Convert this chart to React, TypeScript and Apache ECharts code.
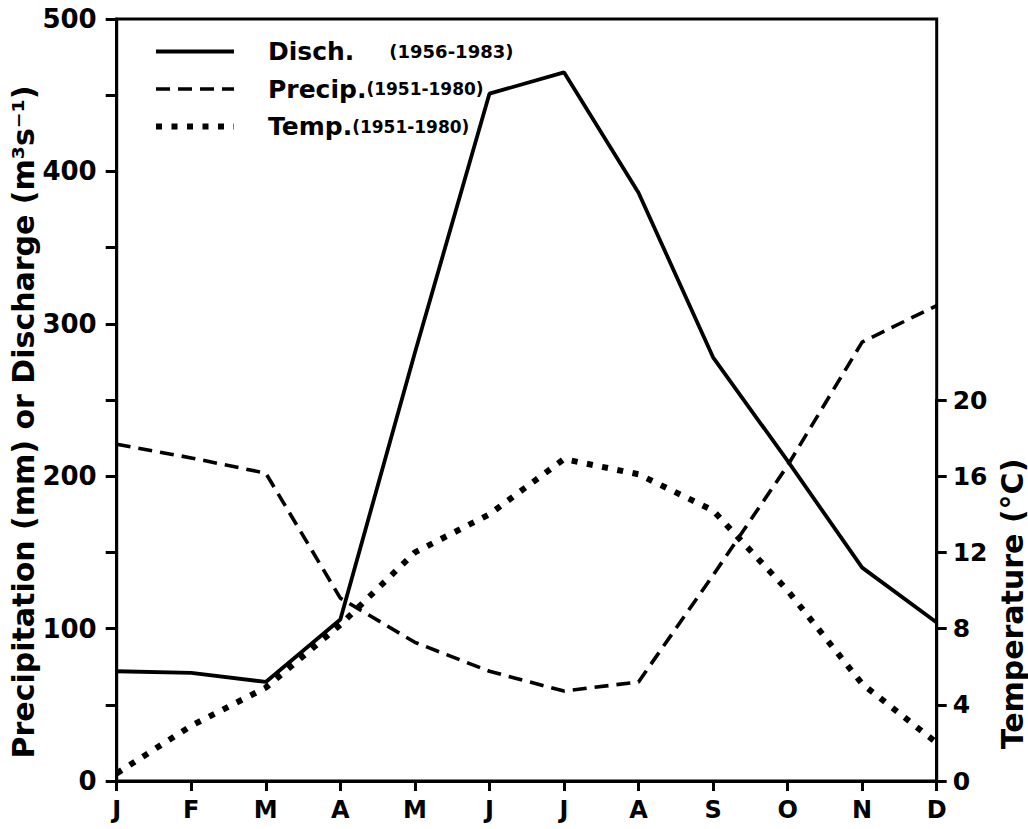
import React, { useEffect, useRef } from "react";
import * as echarts from "echarts";

const months = ["J", "F", "M", "A", "M", "J", "J", "A", "S", "O", "N", "D"];
const discharge = [72, 71, 65, 106, 281, 451, 465, 386, 278, 210, 140, 104];
const precipitation = [221, 212, 202, 120, 91, 72, 59, 65, 135, 207, 288, 312];
const temperature = [0.4, 2.9, 4.9, 8.2, 12.0, 14.0, 16.9, 16.1, 14.2, 10.0, 5.1, 2.0];

const leftTicks = { min: 0, max: 500, interval: 100 };
const rightTicks = { min: 0, max: 20, interval: 4 };

const legendPeriods: Record<string, string> = {
  "Disch.": "(1956-1983)",
  "Precip.": "(1951-1980)",
  "Temp.": "(1951-1980)",
};

const FONT = "DejaVu Sans";

const dischStyle = { color: "#000", width: 3.8, type: "solid" as const };
const precipStyle = { color: "#000", width: 3.6, type: [14, 8], cap: "butt" as const };
const tempStyle = { color: "#000", width: 6, type: [6, 9.5], cap: "butt" as const };

export default function App() {
  const ref = useRef<HTMLDivElement>(null);
  useEffect(() => {
    if (!ref.current) return;
    const chart = echarts.init(ref.current, null, { renderer: "svg" });
    const black = "#000";
    const labelStyle = (size: number, margin: number) => ({
      color: black,
      fontSize: size,
      fontWeight: "bold",
      fontFamily: FONT,
      margin,
    });
    const hiddenSymbol = { opacity: 0, borderWidth: 0 };
    chart.setOption({
      animation: false,
      backgroundColor: "#fff",
      textStyle: { fontFamily: FONT, fontWeight: "bold", color: black },
      grid: [
        { left: 116.7, right: 91.3, top: 19, bottom: 48, show: true, borderColor: black, borderWidth: 3 },
        { left: 116.7, right: 91.3, top: 400, bottom: 48, show: false },
      ],
      xAxis: [
        {
          type: "category",
          gridIndex: 0,
          data: months,
          boundaryGap: false,
          axisLine: { lineStyle: { color: black, width: 3 } },
          axisTick: { length: 10, lineStyle: { width: 3, color: black } },
          axisLabel: labelStyle(24, 17),
          splitLine: { show: false },
        },
        { type: "category", gridIndex: 1, data: months, boundaryGap: false, show: false },
      ],
      yAxis: [
        {
          type: "value",
          gridIndex: 0,
          ...leftTicks,
          axisLine: { show: true, lineStyle: { color: black, width: 3 } },
          axisTick: { show: true, length: 11, lineStyle: { width: 3, color: black } },
          minorTick: { show: true, splitNumber: 2, length: 11, lineStyle: { width: 3, color: black } },
          axisLabel: labelStyle(26, 20),
          splitLine: { show: false },
          minorSplitLine: { show: false },
        },
        {
          type: "value",
          gridIndex: 1,
          position: "right",
          ...rightTicks,
          axisLine: { show: true, lineStyle: { color: black, width: 3 } },
          axisTick: { show: true, length: 10, lineStyle: { width: 3, color: black } },
          axisLabel: labelStyle(25, 16),
          splitLine: { show: false },
        },
      ],
      legend: {
        orient: "vertical",
        left: 148,
        top: 34,
        itemWidth: 78,
        itemHeight: 14,
        itemGap: 12.5,
        selectedMode: false,
        itemStyle: hiddenSymbol,
        data: [
          { name: "Disch.", itemStyle: hiddenSymbol, lineStyle: dischStyle },
          { name: "Precip.", itemStyle: hiddenSymbol, lineStyle: precipStyle },
          { name: "Temp.", itemStyle: hiddenSymbol, lineStyle: tempStyle },
        ],
        formatter: (name: string) =>
          name === "Disch."
            ? `{a|${name}}{c|${legendPeriods[name]}}`
            : `{a|${name}}{b|${legendPeriods[name]}}`,
        textStyle: {
          color: black,
          rich: {
            a: { fontSize: 25, fontWeight: "bold", fontFamily: FONT, color: black, padding: [0, 0, 0, 29] },
            b: { fontSize: 17, fontWeight: "bold", fontFamily: FONT, color: black },
            c: { fontSize: 18, fontWeight: "bold", fontFamily: FONT, color: black, padding: [0, 0, 0, 35] },
          },
        },
      },
      graphic: [
        {
          type: "text",
          x: 23,
          y: 422,
          rotation: Math.PI / 2,
          style: {
            text: "Precipitation (mm) or Discharge (m³s⁻¹)",
            font: `bold 30px "${FONT}"`,
            fill: black,
            align: "center",
            verticalAlign: "middle",
            textAlign: "center",
            textVerticalAlign: "middle",
          },
        },
        {
          type: "text",
          x: 1012,
          y: 604,
          rotation: Math.PI / 2,
          style: {
            text: "Temperature (°C)",
            font: `bold 30px "${FONT}"`,
            fill: black,
            align: "center",
            verticalAlign: "middle",
            textAlign: "center",
            textVerticalAlign: "middle",
          },
        },
      ],
      series: [
        {
          name: "Disch.",
          type: "line",
          xAxisIndex: 0,
          yAxisIndex: 0,
          data: discharge,
          symbol: "none",
          itemStyle: { color: black },
          lineStyle: dischStyle,
        },
        {
          name: "Precip.",
          type: "line",
          xAxisIndex: 0,
          yAxisIndex: 0,
          data: precipitation,
          symbol: "none",
          itemStyle: { color: black },
          lineStyle: precipStyle,
        },
        {
          name: "Temp.",
          type: "line",
          xAxisIndex: 1,
          yAxisIndex: 1,
          data: temperature,
          symbol: "none",
          itemStyle: { color: black },
          lineStyle: tempStyle,
        },
      ],
    });
    return () => chart.dispose();
  }, []);
  return (
    <div
      ref={ref}
      style={{ position: "absolute", left: 0, top: 0, width: 1028, height: 829, background: "#fff" }}
    />
  );
}
